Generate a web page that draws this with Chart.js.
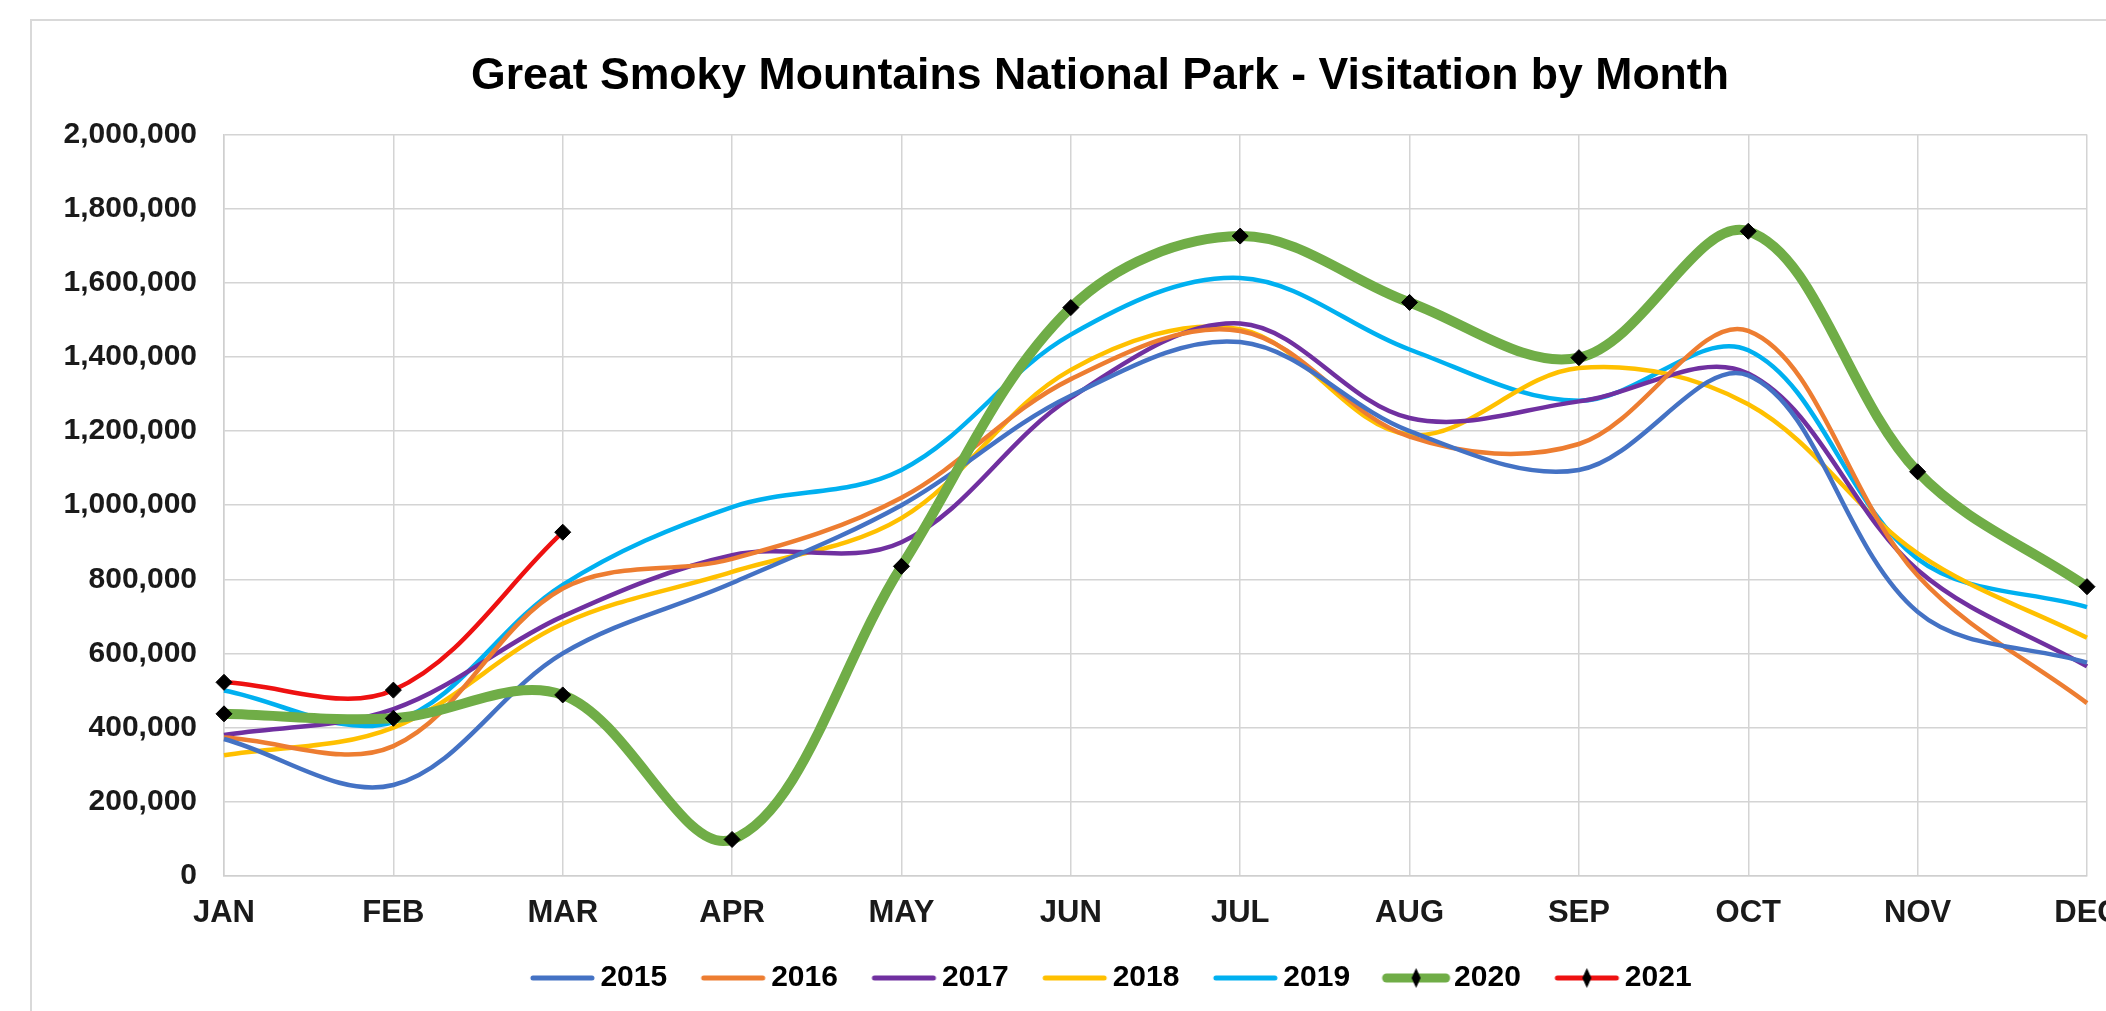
<!DOCTYPE html>
<html>
<head>
<meta charset="utf-8">
<script src="https://cdn.jsdelivr.net/npm/chart.js@4.4.1/dist/chart.umd.min.js"></script>
<style>
  html, body { margin: 0; padding: 0; background: #fff; overflow: hidden; width: 2106px; height: 1011px; }
  #frame { position: absolute; left: 30px; top: 19px; width: 2200px; height: 1100px;
           border-left: 2px solid #d9d9d9; border-top: 2px solid #d9d9d9; }
  #wrap { position: absolute; left: 0; top: 0; width: 2134px; height: 990px; }
</style>
</head>
<body>
<div id="frame"><div id="wrap"><canvas id="visits"></canvas></div></div>
<script>
//------------------------------------------------------
// DATA
//------------------------------------------------------
const months = ['JAN','FEB','MAR','APR','MAY','JUN','JUL','AUG','SEP','OCT','NOV','DEC'];

const v2015 = [369000, 245000, 600000, 790000, 1000000, 1295000, 1440000, 1200000, 1095000, 1350000, 712000, 575000];
const v2016 = [373000, 350000, 775000, 855000, 1020000, 1340000, 1470000, 1185000, 1165000, 1470000, 810000, 466000];
const v2017 = [380000, 450000, 700000, 865000, 900000, 1290000, 1490000, 1235000, 1280000, 1355000, 825000, 565000];
const v2018 = [325000, 400000, 680000, 820000, 965000, 1365000, 1475000, 1190000, 1370000, 1272000, 870000, 642000];
const v2019 = [500000, 415000, 785000, 995000, 1095000, 1460000, 1613000, 1420000, 1282000, 1418000, 855000, 725000];
const v2020 = [437000, 425000, 488000, 98000, 835000, 1533000, 1726000, 1547000, 1398000, 1739000, 1090000, 780000];
const v2021 = [522000, 501000, 927000];

const yearLabels = ['2015','2016','2017','2018','2019','2020','2021'];
const yearColors = ['#4472C4','#ED7D31','#7030A0','#FFC000','#00B0F0','#70AD47','#EE1111'];

const yTicks = { min: 0, max: 2000000, step: 200000 };

//------------------------------------------------------
// LEGEND ICONS (line + optional diamond)
// canvas is wider than the line so the line sits right next to the text
//------------------------------------------------------
function legendIcon(color, lw, diamond) {
  const c = document.createElement('canvas');
  c.width = 154; c.height = 22;
  const g = c.getContext('2d');
  g.strokeStyle = color;
  g.lineWidth = lw;
  g.lineCap = 'round';
  g.beginPath();
  g.moveTo(63, 11); g.lineTo(122, 11);
  g.stroke();
  if (diamond) {
    g.fillStyle = '#000';
    g.beginPath();
    g.moveTo(92.5, 1); g.lineTo(97, 11); g.lineTo(92.5, 21); g.lineTo(88, 11);
    g.closePath();
    g.fill();
  }
  return c;
}

function series(i, values, width, markers) {
  return {
    label: yearLabels[i],
    data: values,
    borderColor: yearColors[i],
    backgroundColor: yearColors[i],
    borderWidth: width,
    fill: false,
    tension: 0.35,
    pointStyle: 'rectRot',
    pointRadius: markers ? 8 : 0,
    pointBackgroundColor: '#000',
    pointBorderColor: '#000',
    pointBorderWidth: 1,
    legendIcon: legendIcon(yearColors[i], width > 6 ? 9 : 5, markers)
  };
}

const datasets = [
  series(0, v2015, 4.5, false),
  series(1, v2016, 4.5, false),
  series(2, v2017, 4.5, false),
  series(3, v2018, 4.5, false),
  series(4, v2019, 4.5, false),
  series(5, v2020, 10, true),
  series(6, v2021, 4.5, true)
];
// keep 2020 drawn above the others, 2021 on top
datasets[5].order = -1;
datasets[6].order = -2;

const FONT = "'Liberation Sans', Arial, sans-serif";

//------------------------------------------------------
// CHART
//------------------------------------------------------
const config = {
  type: 'line',
  data: { labels: months, datasets: datasets },
  options: {
    responsive: true,
    maintainAspectRatio: false,
    animation: false,
    layout: { padding: { left: 24, right: 22, top: 0, bottom: 8 } },
    plugins: {
      title: {
        display: true,
        text: 'Great Smoky Mountains National Park - Visitation by Month',
        color: '#000',
        font: { family: FONT, size: 44.6, weight: 'bold' },
        padding: { top: 29, bottom: 31 }
      },
      legend: {
        position: 'bottom',
        labels: {
          usePointStyle: true,
          pointStyleWidth: 77,
          padding: 12,
          color: '#111',
          font: { family: FONT, size: 30, weight: 'bold' },
          generateLabels: (chart) => chart.data.datasets.map((ds, i) => ({
            text: ds.label,
            pointStyle: ds.legendIcon,
            fillStyle: ds.borderColor,
            strokeStyle: ds.borderColor,
            lineWidth: 0,
            hidden: false,
            datasetIndex: i
          }))
        }
      },
      tooltip: { enabled: false }
    },
    scales: {
      x: {
        offset: false,
        grid: { color: '#d4d4d4', lineWidth: 1.5, drawTicks: false },
        border: { color: '#cfcfcf', width: 1.5 },
        ticks: {
          color: '#1a1a1a',
          padding: 19,
          maxRotation: 0,
          autoSkip: false,
          font: { family: FONT, size: 31, weight: 'bold' }
        }
      },
      y: {
        min: yTicks.min,
        max: yTicks.max,
        afterFit: (s) => { s.width = 168; },
        grid: { color: '#d4d4d4', lineWidth: 1.5, drawTicks: false },
        border: { color: '#cfcfcf', width: 1.5 },
        ticks: {
          stepSize: yTicks.step,
          color: '#1a1a1a',
          padding: 27,
          font: { family: FONT, size: 30, weight: 'bold' },
          callback: (v) => v.toLocaleString('en-US')
        }
      },
      // empty spacer on the right so title/legend center like the original
      yPad: {
        position: 'right',
        display: true,
        afterFit: (s) => { s.width = 57; },
        grid: { display: false },
        border: { display: false },
        ticks: { display: false }
      }
    }
  }
};

const ctx = document.getElementById('visits').getContext('2d');
const visitsChart = new Chart(ctx, config);
</script>
</body>
</html>
